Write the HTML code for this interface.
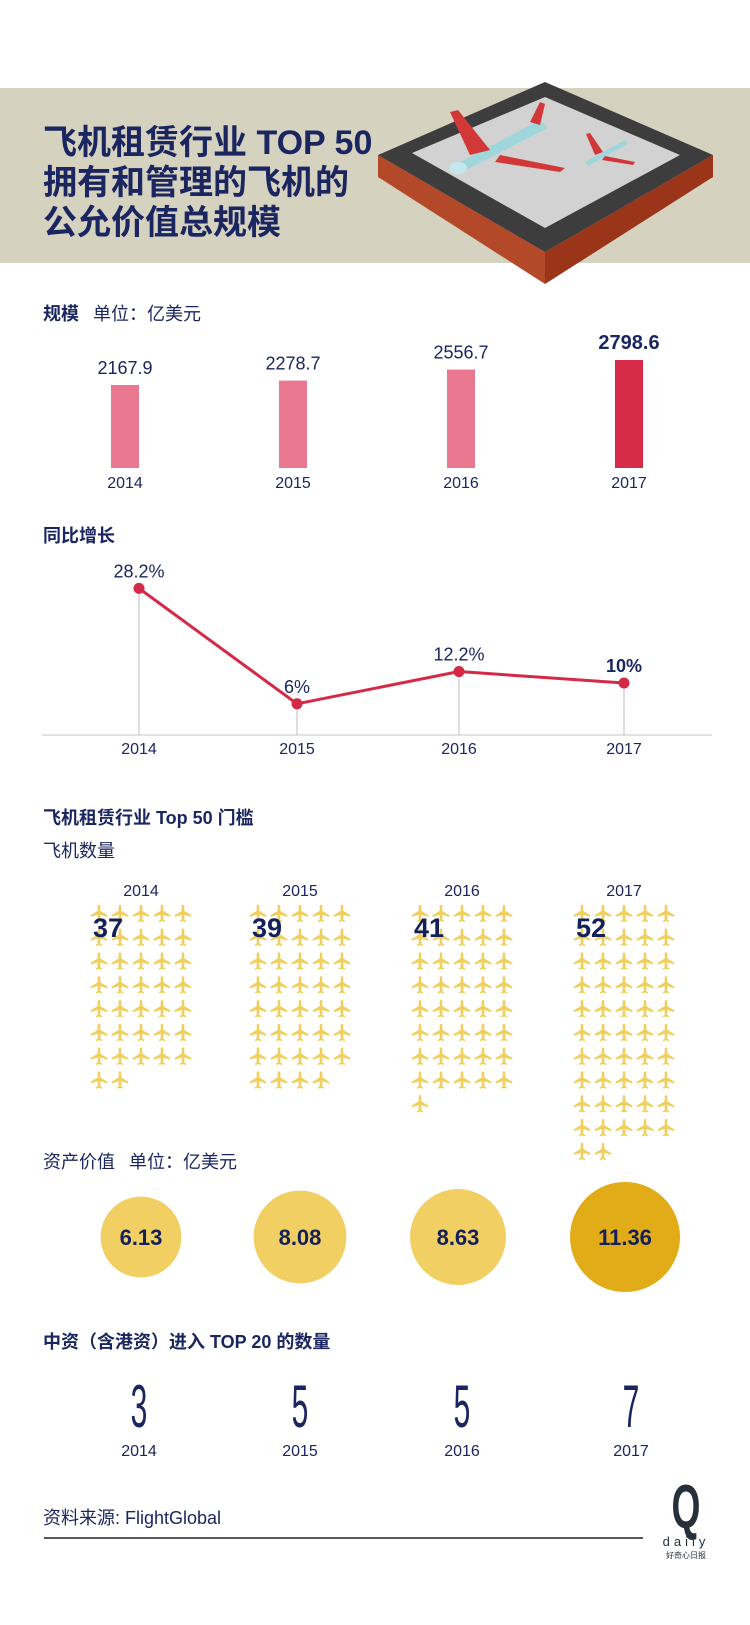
<!DOCTYPE html>
<html><head><meta charset="utf-8">
<style>
html,body{margin:0;padding:0;background:#fff;}
body{width:750px;height:1620px;overflow:hidden;font-family:"Liberation Sans","Noto Sans CJK SC",sans-serif;}
svg text{font-family:"Liberation Sans","Noto Sans CJK SC",sans-serif;}
</style></head>
<body>
<svg id="page" width="750" height="1620" viewBox="0 0 750 1620" xmlns="http://www.w3.org/2000/svg">
  <rect x="0" y="88" width="750" height="175" fill="#d5d2c0"/>
  <g fill="#1b2660" font-weight="bold" font-size="34">
    <text x="43" y="154">飞机租赁行业 TOP 50</text>
    <text x="43" y="194">拥有和管理的飞机的</text>
    <text x="43" y="234">公允价值总规模</text>
  </g>
  <g>
    <polygon points="378,155 545,252 545,284 378,177" fill="#b4492a"/>
    <polygon points="545,252 713,155 713,177 545,284" fill="#9a3519"/>
    <polygon points="545,82 713,155 545,252 378,155" fill="#3d3d3d"/>
    <polygon points="545,97 680,155 545,228 412,153" fill="#d2d2d2"/>
    <g>
      <polygon points="455,165 540,120 548,128 462,172" fill="#9fd6dc"/>
      <polygon points="470,155 450,112 458,110 490,150" fill="#d33838"/>
      <polygon points="500,155 565,168 560,172 495,162" fill="#d33838"/>
      <polygon points="530,122 540,102 545,104 540,125" fill="#d33838"/>
      <ellipse cx="458" cy="168" rx="9" ry="6" fill="#c3e7ea"/>
    </g>
    <g>
      <polygon points="585,162 625,140 628,144 588,166" fill="#9fd6dc"/>
      <polygon points="595,155 586,134 590,133 603,152" fill="#d33838"/>
      <polygon points="605,156 635,162 633,165 602,160" fill="#d33838"/>
    </g>
  </g>

  <text x="43" y="320" fill="#1b2660" font-size="18"><tspan font-weight="bold">规模</tspan><tspan dx="14">单位：亿美元</tspan></text>
  <g id="bars"></g>

  <text x="43" y="542" fill="#1b2660" font-size="18" font-weight="bold">同比增长</text>
  <g id="line"></g>

  <text x="43" y="824" fill="#1b2660" font-size="18" font-weight="bold">飞机租赁行业 Top 50 门槛</text>
  <text x="43" y="857" fill="#1b2660" font-size="18">飞机数量</text>
  <g id="planes"></g>

  <text x="43" y="1168" fill="#1b2660" font-size="18">资产价值<tspan dx="14">单位：亿美元</tspan></text>
  <g id="circles"></g>

  <text x="43" y="1348" fill="#1b2660" font-size="18" font-weight="bold">中资（含港资）进入 TOP 20 的数量</text>
  <g id="counts"></g>

  <text x="43" y="1524" fill="#1b2660" font-size="18">资料来源: FlightGlobal</text>
  <line x1="44" y1="1538" x2="643" y2="1538" stroke="#222" stroke-width="1.5"/>
  <g>
    <text x="686" y="1528" text-anchor="middle" font-size="62" font-weight="bold" fill="#25303a" transform="translate(686 0) scale(0.6 1) translate(-686 0)">Q</text>
    <text x="686" y="1546" text-anchor="middle" font-size="13" fill="#25303a" letter-spacing="4">daily</text>
    <text x="686" y="1558" text-anchor="middle" font-size="8" fill="#25303a">好奇心日报</text>
  </g>
</svg>
<script>
const NS='http://www.w3.org/2000/svg';
function mk(tag,attrs,parent,txt){const e=document.createElementNS(NS,tag);for(const k in attrs)e.setAttribute(k,attrs[k]);if(txt!==undefined)e.textContent=txt;parent.appendChild(e);return e;}
const NAVY='#1b2660';

// ---- data ----
const years=['2014','2015','2016','2017'];
const scaleValues=[2167.9,2278.7,2556.7,2798.6];
const scaleLabels=['2167.9','2278.7','2556.7','2798.6'];
const growthValues=[28.2,6,12.2,10];
const growthLabels=['28.2%','6%','12.2%','10%'];
const planeCounts=[37,39,41,52];
const assetValues=[6.13,8.08,8.63,11.36];
const assetLabels=['6.13','8.08','8.63','11.36'];
const chinaCounts=[3,5,5,7];

const xCenters=[139,297,459,624];
function xPos(i){return xCenters[i];}

// ---- bar chart ----
const barG=document.getElementById('bars');
const barBase=468, barMinV=72, barMaxV=2798.6, barMaxH=108;
function barH(v){return (v-barMinV)/(barMaxV-barMinV)*barMaxH;}
const barX=[125,293,461,629];
scaleValues.forEach((v,i)=>{
  const h=barH(v), last=i===scaleValues.length-1;
  const r=mk('rect',{x:barX[i]-14,y:barBase-h,width:28,height:h,fill:last?'#d62c49':'#e97890'},barG);
  
  
  const t=mk('text',{x:barX[i],y:barBase-h-11,'text-anchor':'middle','font-size':last?20:18,'font-weight':last?'bold':'normal',fill:NAVY},barG,scaleLabels[i]);
  
  
  const y=mk('text',{x:barX[i],y:488,'text-anchor':'middle','font-size':16,fill:NAVY},barG,years[i]);
  
  
});

// ---- line chart ----
const lineG=document.getElementById('line');
const axisY=735, pxPerUnit=5.2;
function gy(v){return axisY-v*pxPerUnit;}
const ax=mk('line',{x1:42,y1:axisY,x2:712,y2:axisY,stroke:'#d8d8d8','stroke-width':1.5},lineG);


growthValues.forEach((v,i)=>{
  const d=mk('line',{x1:xPos(i),y1:gy(v),x2:xPos(i),y2:axisY,stroke:'#bdbdbd','stroke-width':1},lineG);
  
  
});
const pl=mk('polyline',{points:growthValues.map((v,i)=>xPos(i)+','+gy(v)).join(' '),fill:'none',stroke:'#d42a47','stroke-width':3},lineG);


growthValues.forEach((v,i)=>{
  const c=mk('circle',{cx:xPos(i),cy:gy(v),r:5.5,fill:'#d42a47'},lineG);
  
  
  const last=i===growthValues.length-1;
  const t=mk('text',{x:xPos(i),y:gy(v)-11,'text-anchor':'middle','font-size':18,'font-weight':last?'bold':'normal',fill:NAVY},lineG,growthLabels[i]);
  
  
  const y=mk('text',{x:xPos(i),y:754,'text-anchor':'middle','font-size':16,fill:NAVY},lineG,years[i]);
  
  
});

// ---- plane pictogram ----
const planeG=document.getElementById('planes');
const PLANE='M21 16v-2l-8-5V3.5c0-.83-.67-1.5-1.5-1.5S10 2.67 10 3.5V9l-8 5v2l8-2.5V19l-2 1.5V22l3.5-1 3.5 1v-1.5L13 19v-5.5l8 2.5z';
const gridCenters=[141,300,462,624];
planeCounts.forEach((n,i)=>{
  const g=mk('g',{},planeG);
  
  
  const yl=mk('text',{x:gridCenters[i],y:896,'text-anchor':'middle','font-size':16,fill:NAVY},g,years[i]);
  
  
  for(let k=0;k<n;k++){
    const col=k%5,row=Math.floor(k/5);
    const cx=gridCenters[i]-42+col*21, cy=913+row*23.8;
    const p=mk('path',{d:PLANE,fill:'#f0cf5c',transform:'translate('+(cx-10)+','+(cy-10)+') scale(0.87)'},g);
    
    
  }
  const num=mk('text',{x:gridCenters[i]-48,y:937,'font-size':27,'font-weight':'bold',fill:'#13205a'},g,String(n));
  
  
});

// ---- asset circles ----
const circG=document.getElementById('circles');
const maxR=55, maxAsset=Math.max(...assetValues);
function rad(v){return Math.sqrt(v/maxAsset)*maxR;}
const circX=[141,300,458,625];
assetValues.forEach((v,i)=>{
  const last=i===assetValues.length-1;
  const c=mk('circle',{cx:circX[i],cy:1237,r:rad(v),fill:last?'#e2ab18':'#f1cf62'},circG);
  
  
  const t=mk('text',{x:circX[i],y:1245,'text-anchor':'middle','font-size':22,'font-weight':'bold',fill:'#13205a'},circG,assetLabels[i]);
  
  
});

// ---- china counts ----
const cntG=document.getElementById('counts');
const cntX=[139,300,462,631];
chinaCounts.forEach((v,i)=>{
  const t=mk('text',{x:0,y:0,'text-anchor':'middle','font-size':60,fill:'#1b2660',transform:'translate('+cntX[i]+',1427) scale(0.5,1)'},cntG,String(v));
  
  
  const y=mk('text',{x:cntX[i],y:1456,'text-anchor':'middle','font-size':16,fill:NAVY},cntG,years[i]);
  
  
});
</script>
</body></html>
